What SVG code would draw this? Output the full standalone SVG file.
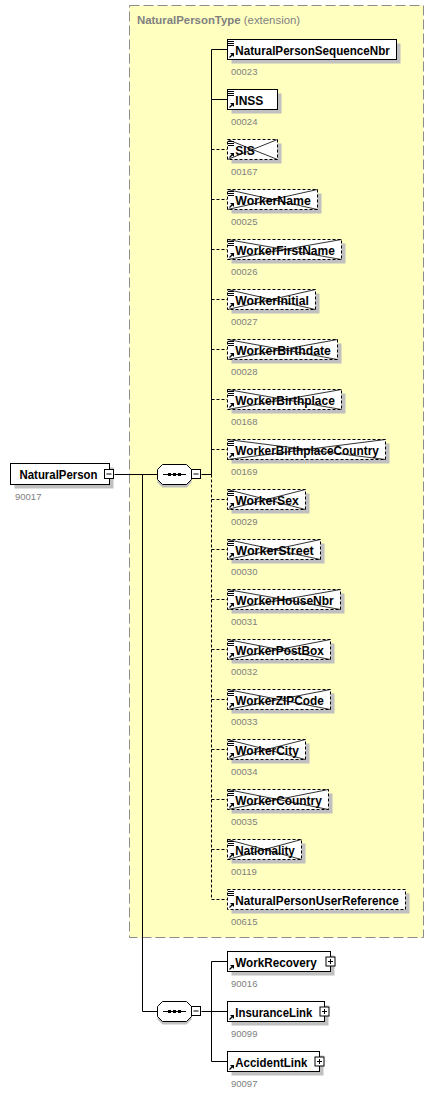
<svg xmlns="http://www.w3.org/2000/svg" xmlns:xlink="http://www.w3.org/1999/xlink" width="436" height="1094" viewBox="0 0 436 1094">
<style>
.bg{fill:#ffffff}
.ext{fill:#ffffc0;stroke:#8c8c8c;stroke-width:1;stroke-dasharray:10,4}
.hdr{font-family:"Liberation Sans",Arial,sans-serif;font-size:11.4px;fill:#808080}
.sh{fill:#c0c0c0;stroke:none}
.box{fill:#ffffff;stroke:#000;stroke-width:1}
.opt{fill:#ffffff;stroke:#000;stroke-width:1;stroke-dasharray:3,2}
.x{stroke:#000;stroke-width:0.8;fill:none}
.nm{font-family:"Liberation Sans",Arial,sans-serif;font-size:12px;font-weight:bold;fill:#000}
.id{font-family:"Liberation Sans",Arial,sans-serif;font-size:9.5px;fill:#808080}
.ln{stroke:#000;stroke-width:1;fill:none}
.dl{stroke:#000;stroke-width:1;fill:none;stroke-dasharray:3,2}
.btn{fill:#ffffff;stroke:#000;stroke-width:1}
</style>
<defs>
<g id="ic-eq"><path d="M1,2.5h6M1,4.5h6M1,6.5h6" stroke="#000" stroke-width="1" fill="none"/></g>
<g id="ic-ref"><path d="M2.5,-2.5L5.5,-5.5" stroke="#000" stroke-width="1.2" fill="none"/><path d="M7,-7L7,-3L3,-7Z" fill="#000"/></g>
<g id="btn-minus"><rect class="btn" x="0.5" y="0.5" width="9" height="9"/><path d="M2.5,5h5" stroke="#000" stroke-width="1"/></g>
<g id="btn-plus"><rect class="btn" x="0.5" y="0.5" width="9" height="9"/><path d="M2.5,5h5M5,2.5v5" stroke="#000" stroke-width="1"/></g>
<g id="seq">
<path d="M5.5,3.5H29.5L34.5,8.5V18.5L29.5,23.5H5.5L0.5,18.5V8.5Z" fill="#c0c0c0"/>
<path d="M5.5,0.5H29.5L34.5,5.5V15.5L29.5,20.5H5.5L0.5,15.5V5.5Z" fill="#ffffff" stroke="#000" stroke-width="1"/>
<path d="M6,10.5H29" stroke="#000" stroke-width="1"/>
<rect x="11" y="9" width="3" height="3" fill="#000"/>
<rect x="16" y="9" width="3" height="3" fill="#000"/>
<rect x="21" y="9" width="3" height="3" fill="#000"/>
</g>
</defs>
<rect class="bg" x="0" y="0" width="436" height="1094"/>

<g id="NaturalPersonType">
<rect class="ext" x="129.5" y="5.5" width="294" height="932"/>
<text class="hdr" x="137" y="23.5"><tspan font-weight="bold">NaturalPersonType</tspan> (extension)</text>
</g>

<g id="connectors">
<path class="ln" d="M114.5,474.5H157.5"/>
<path class="ln" d="M142.5,474.5V1011.5H157.5"/>
<path class="ln" d="M201.5,474.5H211.5"/>
<path class="ln" d="M211.5,49.5V474.5"/>
<path class="dl" d="M211.5,474.5V899.5"/>
<path class="ln" d="M211.5,49.5H227M211.5,99.5H227"/>
<path class="dl" d="M211.5,149.5H227M211.5,199.5H227M211.5,249.5H227M211.5,299.5H227M211.5,349.5H227M211.5,399.5H227M211.5,449.5H227M211.5,499.5H227M211.5,549.5H227M211.5,599.5H227M211.5,649.5H227M211.5,699.5H227M211.5,749.5H227M211.5,799.5H227M211.5,849.5H227M211.5,899.5H227"/>
<path class="ln" d="M201.5,1011.5H211.5M211.5,961.5V1061.5M211.5,961.5H227M211.5,1011.5H227M211.5,1061.5H227"/>
</g>

<g id="NaturalPerson">
<rect class="sh" x="14.5" y="467.5" width="99" height="21"/>
<rect class="box" x="10.5" y="463.5" width="99" height="21"/>
<text class="nm" x="19.5" y="479" textLength="78" lengthAdjust="spacingAndGlyphs">NaturalPerson</text>
<use xlink:href="#btn-minus" x="104" y="469"/>
<text class="id" x="15" y="499.5">90017</text>
</g>

<g id="sequence1">
<use xlink:href="#seq" x="157" y="464"/>
<use xlink:href="#btn-minus" x="191" y="469"/>
</g>

<g id="sequence2">
<use xlink:href="#seq" x="157" y="1001"/>
<use xlink:href="#btn-minus" x="191" y="1006"/>
</g>

<g id="NaturalPersonSequenceNbr">
<rect class="sh" x="231.5" y="43.5" width="169" height="20"/>
<rect class="box" x="227.5" y="39.5" width="169" height="20"/>
<use xlink:href="#ic-eq" x="227" y="39"/><use xlink:href="#ic-ref" x="227" y="60"/>
<text class="nm" x="235.3" y="55" textLength="154.5" lengthAdjust="spacingAndGlyphs">NaturalPersonSequenceNbr</text>
<text class="id" x="231" y="75">00023</text>
</g>

<g id="INSS">
<rect class="sh" x="231.5" y="93.5" width="50" height="20"/>
<rect class="box" x="227.5" y="89.5" width="50" height="20"/>
<use xlink:href="#ic-eq" x="227" y="89"/><use xlink:href="#ic-ref" x="227" y="110"/>
<text class="nm" x="235.3" y="105">INSS</text>
<text class="id" x="231" y="125">00024</text>
</g>

<g id="SIS">
<rect class="sh" x="231.5" y="143.5" width="50" height="20"/>
<rect class="opt" x="227.5" y="139.5" width="50" height="20"/>
<path class="x" d="M227.5,139.5L277.5,159.5M227.5,159.5L277.5,139.5"/>
<use xlink:href="#ic-eq" x="227" y="139"/><use xlink:href="#ic-ref" x="227" y="160"/>
<text class="nm" x="235.3" y="155">SIS</text>
<text class="id" x="231" y="175">00167</text>
</g>

<g id="WorkerName">
<rect class="sh" x="231.5" y="193.5" width="90" height="20"/>
<rect class="opt" x="227.5" y="189.5" width="90" height="20"/>
<path class="x" d="M227.5,189.5L317.5,209.5M227.5,209.5L317.5,189.5"/>
<use xlink:href="#ic-eq" x="227" y="189"/><use xlink:href="#ic-ref" x="227" y="210"/>
<text class="nm" x="235.3" y="205" textLength="75.5" lengthAdjust="spacingAndGlyphs">WorkerName</text>
<text class="id" x="231" y="225">00025</text>
</g>

<g id="WorkerFirstName">
<rect class="sh" x="231.5" y="243.5" width="114" height="20"/>
<rect class="opt" x="227.5" y="239.5" width="114" height="20"/>
<path class="x" d="M227.5,239.5L341.5,259.5M227.5,259.5L341.5,239.5"/>
<use xlink:href="#ic-eq" x="227" y="239"/><use xlink:href="#ic-ref" x="227" y="260"/>
<text class="nm" x="235.3" y="255" textLength="99.5" lengthAdjust="spacingAndGlyphs">WorkerFirstName</text>
<text class="id" x="231" y="275">00026</text>
</g>

<g id="WorkerInitial">
<rect class="sh" x="231.5" y="293.5" width="88" height="20"/>
<rect class="opt" x="227.5" y="289.5" width="88" height="20"/>
<path class="x" d="M227.5,289.5L315.5,309.5M227.5,309.5L315.5,289.5"/>
<use xlink:href="#ic-eq" x="227" y="289"/><use xlink:href="#ic-ref" x="227" y="310"/>
<text class="nm" x="235.3" y="305" textLength="73.5" lengthAdjust="spacingAndGlyphs">WorkerInitial</text>
<text class="id" x="231" y="325">00027</text>
</g>

<g id="WorkerBirthdate">
<rect class="sh" x="231.5" y="343.5" width="110" height="20"/>
<rect class="opt" x="227.5" y="339.5" width="110" height="20"/>
<path class="x" d="M227.5,339.5L337.5,359.5M227.5,359.5L337.5,339.5"/>
<use xlink:href="#ic-eq" x="227" y="339"/><use xlink:href="#ic-ref" x="227" y="360"/>
<text class="nm" x="235.3" y="355" textLength="95.5" lengthAdjust="spacingAndGlyphs">WorkerBirthdate</text>
<text class="id" x="231" y="375">00028</text>
</g>

<g id="WorkerBirthplace">
<rect class="sh" x="231.5" y="393.5" width="114" height="20"/>
<rect class="opt" x="227.5" y="389.5" width="114" height="20"/>
<path class="x" d="M227.5,389.5L341.5,409.5M227.5,409.5L341.5,389.5"/>
<use xlink:href="#ic-eq" x="227" y="389"/><use xlink:href="#ic-ref" x="227" y="410"/>
<text class="nm" x="235.3" y="405" textLength="99.5" lengthAdjust="spacingAndGlyphs">WorkerBirthplace</text>
<text class="id" x="231" y="425">00168</text>
</g>

<g id="WorkerBirthplaceCountry">
<rect class="sh" x="231.5" y="443.5" width="158" height="20"/>
<rect class="opt" x="227.5" y="439.5" width="158" height="20"/>
<path class="x" d="M227.5,439.5L385.5,459.5M227.5,459.5L385.5,439.5"/>
<use xlink:href="#ic-eq" x="227" y="439"/><use xlink:href="#ic-ref" x="227" y="460"/>
<text class="nm" x="235.3" y="455" textLength="143.5" lengthAdjust="spacingAndGlyphs">WorkerBirthplaceCountry</text>
<text class="id" x="231" y="475">00169</text>
</g>

<g id="WorkerSex">
<rect class="sh" x="231.5" y="493.5" width="78" height="20"/>
<rect class="opt" x="227.5" y="489.5" width="78" height="20"/>
<path class="x" d="M227.5,489.5L305.5,509.5M227.5,509.5L305.5,489.5"/>
<use xlink:href="#ic-eq" x="227" y="489"/><use xlink:href="#ic-ref" x="227" y="510"/>
<text class="nm" x="235.3" y="505" textLength="63.5" lengthAdjust="spacingAndGlyphs">WorkerSex</text>
<text class="id" x="231" y="525">00029</text>
</g>

<g id="WorkerStreet">
<rect class="sh" x="231.5" y="543.5" width="93" height="20"/>
<rect class="opt" x="227.5" y="539.5" width="93" height="20"/>
<path class="x" d="M227.5,539.5L320.5,559.5M227.5,559.5L320.5,539.5"/>
<use xlink:href="#ic-eq" x="227" y="539"/><use xlink:href="#ic-ref" x="227" y="560"/>
<text class="nm" x="235.3" y="555" textLength="78.5" lengthAdjust="spacingAndGlyphs">WorkerStreet</text>
<text class="id" x="231" y="575">00030</text>
</g>

<g id="WorkerHouseNbr">
<rect class="sh" x="231.5" y="593.5" width="113" height="20"/>
<rect class="opt" x="227.5" y="589.5" width="113" height="20"/>
<path class="x" d="M227.5,589.5L340.5,609.5M227.5,609.5L340.5,589.5"/>
<use xlink:href="#ic-eq" x="227" y="589"/><use xlink:href="#ic-ref" x="227" y="610"/>
<text class="nm" x="235.3" y="605" textLength="98.5" lengthAdjust="spacingAndGlyphs">WorkerHouseNbr</text>
<text class="id" x="231" y="625">00031</text>
</g>

<g id="WorkerPostBox">
<rect class="sh" x="231.5" y="643.5" width="103" height="20"/>
<rect class="opt" x="227.5" y="639.5" width="103" height="20"/>
<path class="x" d="M227.5,639.5L330.5,659.5M227.5,659.5L330.5,639.5"/>
<use xlink:href="#ic-eq" x="227" y="639"/><use xlink:href="#ic-ref" x="227" y="660"/>
<text class="nm" x="235.3" y="655" textLength="88.5" lengthAdjust="spacingAndGlyphs">WorkerPostBox</text>
<text class="id" x="231" y="675">00032</text>
</g>

<g id="WorkerZIPCode">
<rect class="sh" x="231.5" y="693.5" width="103" height="20"/>
<rect class="opt" x="227.5" y="689.5" width="103" height="20"/>
<path class="x" d="M227.5,689.5L330.5,709.5M227.5,709.5L330.5,689.5"/>
<use xlink:href="#ic-eq" x="227" y="689"/><use xlink:href="#ic-ref" x="227" y="710"/>
<text class="nm" x="235.3" y="705" textLength="88.5" lengthAdjust="spacingAndGlyphs">WorkerZIPCode</text>
<text class="id" x="231" y="725">00033</text>
</g>

<g id="WorkerCity">
<rect class="sh" x="231.5" y="743.5" width="78" height="20"/>
<rect class="opt" x="227.5" y="739.5" width="78" height="20"/>
<path class="x" d="M227.5,739.5L305.5,759.5M227.5,759.5L305.5,739.5"/>
<use xlink:href="#ic-eq" x="227" y="739"/><use xlink:href="#ic-ref" x="227" y="760"/>
<text class="nm" x="235.3" y="755" textLength="63.5" lengthAdjust="spacingAndGlyphs">WorkerCity</text>
<text class="id" x="231" y="775">00034</text>
</g>

<g id="WorkerCountry">
<rect class="sh" x="231.5" y="793.5" width="101" height="20"/>
<rect class="opt" x="227.5" y="789.5" width="101" height="20"/>
<path class="x" d="M227.5,789.5L328.5,809.5M227.5,809.5L328.5,789.5"/>
<use xlink:href="#ic-eq" x="227" y="789"/><use xlink:href="#ic-ref" x="227" y="810"/>
<text class="nm" x="235.3" y="805" textLength="86.5" lengthAdjust="spacingAndGlyphs">WorkerCountry</text>
<text class="id" x="231" y="825">00035</text>
</g>

<g id="Nationality">
<rect class="sh" x="231.5" y="843.5" width="74" height="20"/>
<rect class="opt" x="227.5" y="839.5" width="74" height="20"/>
<path class="x" d="M227.5,839.5L301.5,859.5M227.5,859.5L301.5,839.5"/>
<use xlink:href="#ic-eq" x="227" y="839"/><use xlink:href="#ic-ref" x="227" y="860"/>
<text class="nm" x="235.3" y="855" textLength="59.5" lengthAdjust="spacingAndGlyphs">Nationality</text>
<text class="id" x="231" y="875">00119</text>
</g>

<g id="NaturalPersonUserReference">
<rect class="sh" x="231.5" y="893.5" width="178" height="20"/>
<rect class="opt" x="227.5" y="889.5" width="178" height="20"/>
<use xlink:href="#ic-eq" x="227" y="889"/><use xlink:href="#ic-ref" x="227" y="910"/>
<text class="nm" x="235.3" y="905" textLength="163.5" lengthAdjust="spacingAndGlyphs">NaturalPersonUserReference</text>
<text class="id" x="231" y="925">00615</text>
</g>

<g id="WorkRecovery">
<rect class="sh" x="231.5" y="955.5" width="103" height="20"/>
<rect class="box" x="227.5" y="951.5" width="103" height="20"/>
<use xlink:href="#ic-ref" x="227" y="972"/>
<text class="nm" x="235.3" y="967" textLength="81.5" lengthAdjust="spacingAndGlyphs">WorkRecovery</text>
<use xlink:href="#btn-plus" x="325.5" y="956.5"/>
<text class="id" x="231" y="987">90016</text>
</g>

<g id="InsuranceLink">
<rect class="sh" x="231.5" y="1005.5" width="97" height="20"/>
<rect class="box" x="227.5" y="1001.5" width="97" height="20"/>
<use xlink:href="#ic-ref" x="227" y="1022"/>
<text class="nm" x="235.3" y="1017" textLength="77" lengthAdjust="spacingAndGlyphs">InsuranceLink</text>
<use xlink:href="#btn-plus" x="319.5" y="1006.5"/>
<text class="id" x="231" y="1037">90099</text>
</g>

<g id="AccidentLink">
<rect class="sh" x="231.5" y="1055.5" width="92" height="20"/>
<rect class="box" x="227.5" y="1051.5" width="92" height="20"/>
<use xlink:href="#ic-ref" x="227" y="1072"/>
<text class="nm" x="235.3" y="1067" textLength="72" lengthAdjust="spacingAndGlyphs">AccidentLink</text>
<use xlink:href="#btn-plus" x="314.5" y="1056.5"/>
<text class="id" x="231" y="1087">90097</text>
</g>
</svg>
